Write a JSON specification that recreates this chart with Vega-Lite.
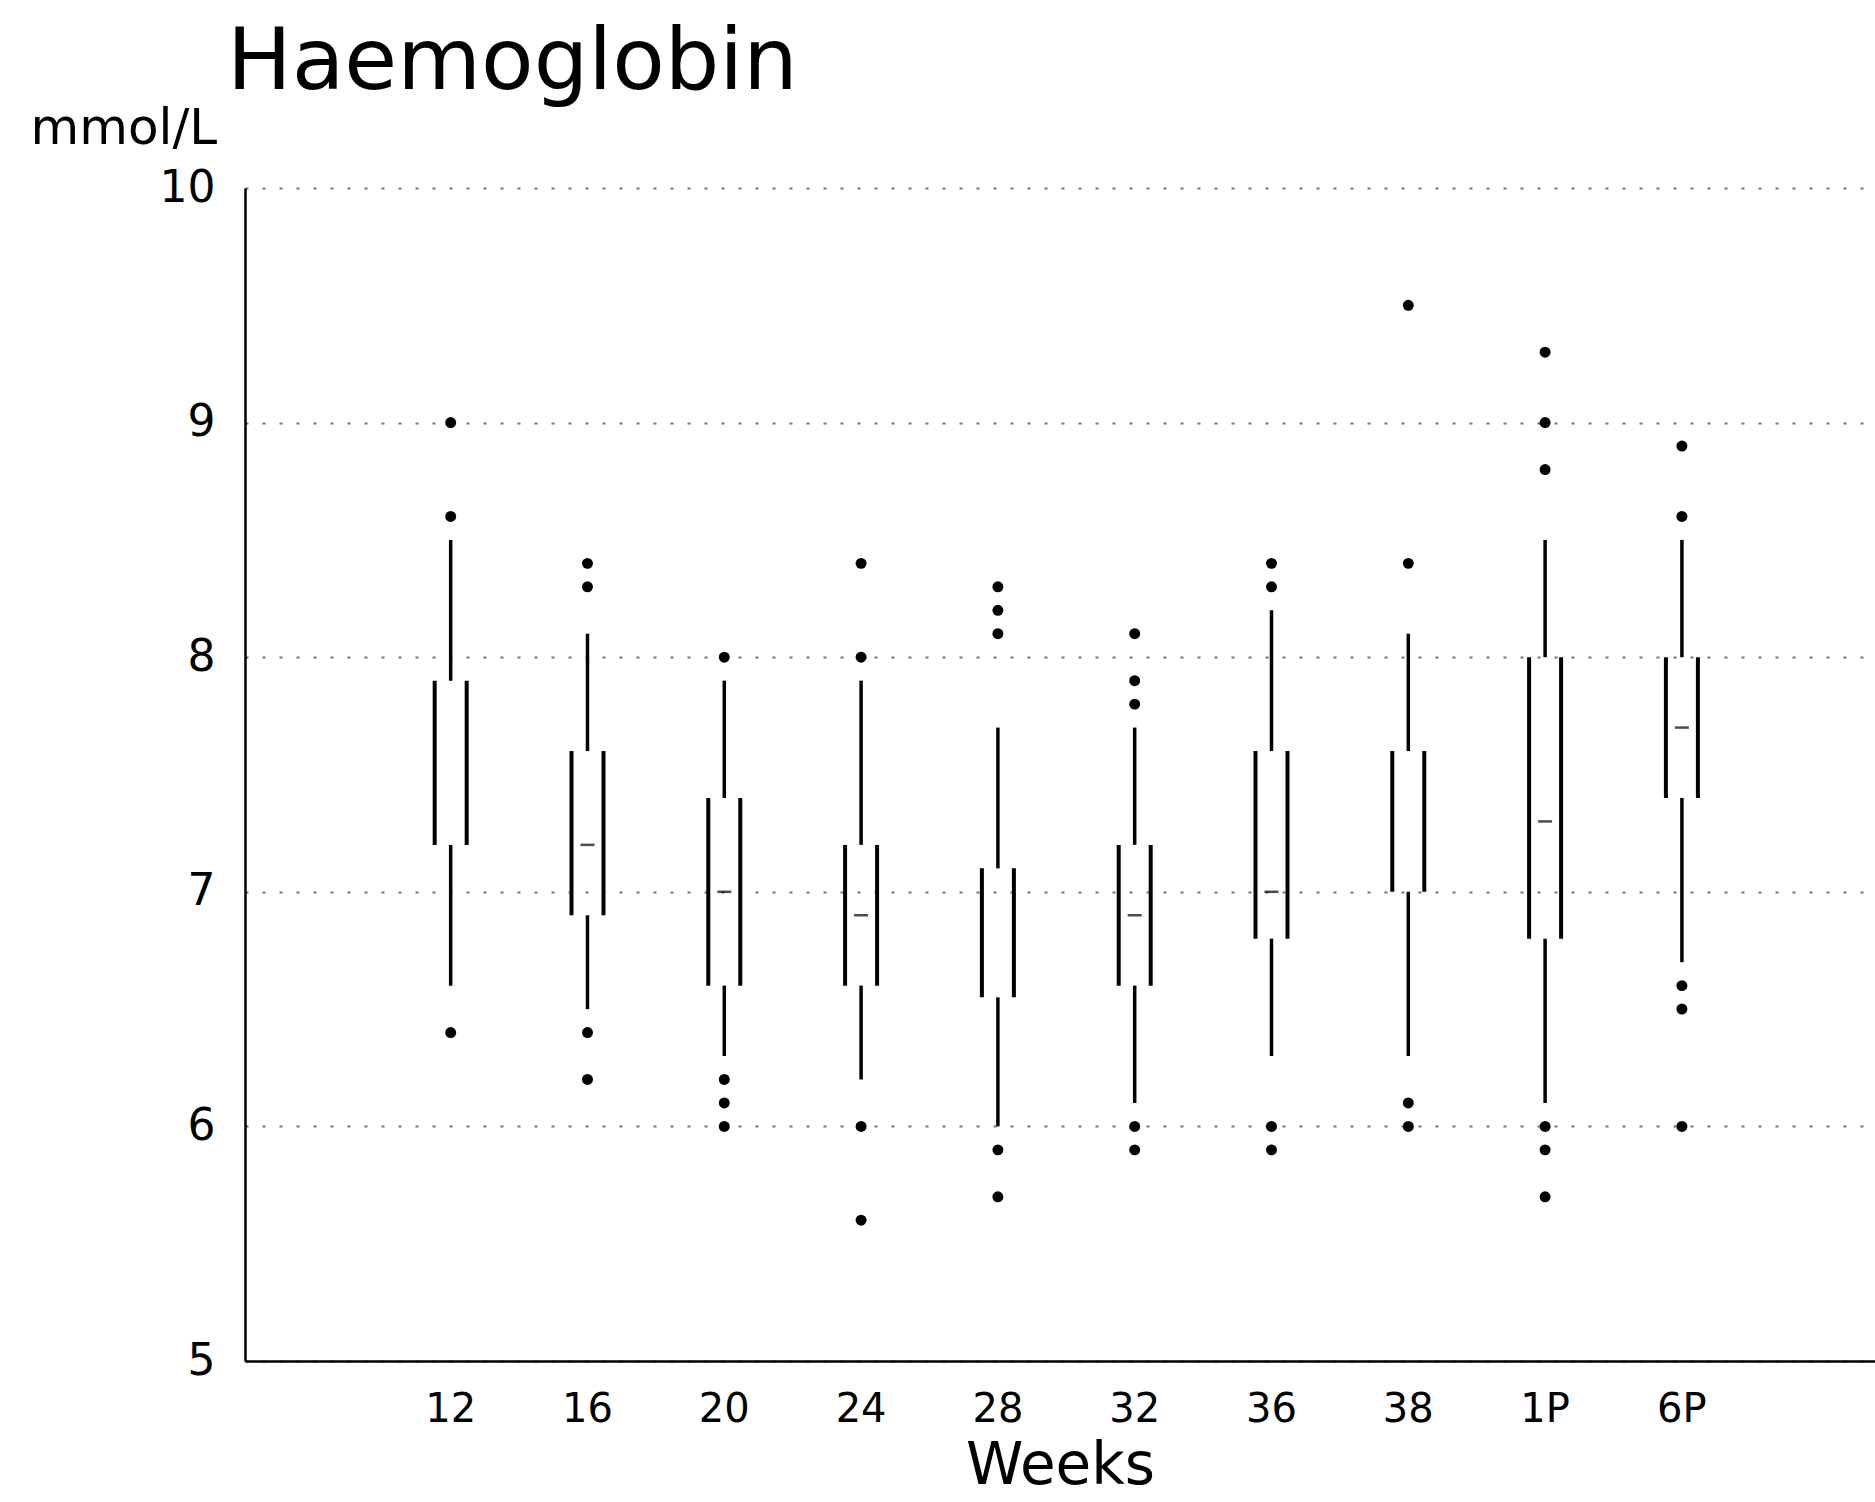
{
  "$schema": "https://vega.github.io/schema/vega-lite/v6.json",
  "width": 1630,
  "height": 1173,
  "autosize": {"type": "none"},
  "padding": {"left": 245, "top": 188, "right": 0, "bottom": 141},
  "background": "white",
  "title": {
    "text": "Haemoglobin",
    "anchor": "start",
    "frame": "group",
    "font": "DejaVu Sans",
    "fontSize": 86,
    "fontWeight": "normal",
    "color": "black",
    "dx": -18,
    "dy": 64,
    "offset": 60
  },
  "datasets": {
    "boxes": [
      {"week": "12", "lo": 6.6, "q1": 7.2, "med": null, "q3": 7.9, "hi": 8.5},
      {"week": "16", "lo": 6.5, "q1": 6.9, "med": 7.2, "q3": 7.6, "hi": 8.1},
      {"week": "20", "lo": 6.3, "q1": 6.6, "med": 7.0, "q3": 7.4, "hi": 7.9},
      {"week": "24", "lo": 6.2, "q1": 6.6, "med": 6.9, "q3": 7.2, "hi": 7.9},
      {"week": "28", "lo": 6.0, "q1": 6.55, "med": null, "q3": 7.1, "hi": 7.7},
      {"week": "32", "lo": 6.1, "q1": 6.6, "med": 6.9, "q3": 7.2, "hi": 7.7},
      {"week": "36", "lo": 6.3, "q1": 6.8, "med": 7.0, "q3": 7.6, "hi": 8.2},
      {"week": "38", "lo": 6.3, "q1": 7.0, "med": null, "q3": 7.6, "hi": 8.1},
      {"week": "1P", "lo": 6.1, "q1": 6.8, "med": 7.3, "q3": 8.0, "hi": 8.5},
      {"week": "6P", "lo": 6.7, "q1": 7.4, "med": 7.7, "q3": 8.0, "hi": 8.5}
    ],
    "outliers": [
      {"week": "12", "value": 9.0}, {"week": "12", "value": 8.6}, {"week": "12", "value": 6.4},
      {"week": "16", "value": 8.4}, {"week": "16", "value": 8.3}, {"week": "16", "value": 6.4}, {"week": "16", "value": 6.2},
      {"week": "20", "value": 8.0}, {"week": "20", "value": 6.2}, {"week": "20", "value": 6.1}, {"week": "20", "value": 6.0},
      {"week": "24", "value": 8.4}, {"week": "24", "value": 8.0}, {"week": "24", "value": 6.0}, {"week": "24", "value": 5.6},
      {"week": "28", "value": 8.3}, {"week": "28", "value": 8.2}, {"week": "28", "value": 8.1}, {"week": "28", "value": 5.9}, {"week": "28", "value": 5.7},
      {"week": "32", "value": 8.1}, {"week": "32", "value": 7.9}, {"week": "32", "value": 7.8}, {"week": "32", "value": 6.0}, {"week": "32", "value": 5.9},
      {"week": "36", "value": 8.4}, {"week": "36", "value": 8.3}, {"week": "36", "value": 6.0}, {"week": "36", "value": 5.9},
      {"week": "38", "value": 9.5}, {"week": "38", "value": 8.4}, {"week": "38", "value": 6.1}, {"week": "38", "value": 6.0},
      {"week": "1P", "value": 9.3}, {"week": "1P", "value": 9.0}, {"week": "1P", "value": 8.8}, {"week": "1P", "value": 6.0}, {"week": "1P", "value": 5.9}, {"week": "1P", "value": 5.7},
      {"week": "6P", "value": 8.9}, {"week": "6P", "value": 8.6}, {"week": "6P", "value": 6.6}, {"week": "6P", "value": 6.5}, {"week": "6P", "value": 6.0}
    ]
  },
  "encoding": {
    "x": {
      "field": "week",
      "type": "ordinal",
      "scale": {
        "type": "band",
        "domain": ["12", "16", "20", "24", "28", "32", "36", "38", "1P", "6P"],
        "paddingInner": 0.085,
        "paddingOuter": 1,
        "align": 0.523
      },
      "axis": {
        "title": "Weeks",
        "titleFont": "DejaVu Sans",
        "titleFontSize": 58,
        "titleFontWeight": "normal",
        "titleColor": "black",
        "titlePadding": 8,
        "labelFont": "DejaVu Sans",
        "labelFontSize": 40,
        "labelColor": "black",
        "labelAngle": 0,
        "labelPadding": 28,
        "ticks": false,
        "domainColor": "black",
        "domainWidth": 2.5,
        "grid": false
      }
    }
  },
  "layer": [
    {
      "data": {"name": "boxes"},
      "mark": {"type": "rule", "color": "black", "strokeWidth": 3.5},
      "encoding": {
        "y": {
          "field": "lo",
          "type": "quantitative",
          "scale": {"domain": [5, 10], "nice": false, "zero": false},
          "axis": {
            "title": "mmol/L",
            "titleAngle": 0,
            "titleAlign": "left",
            "titleBaseline": "alphabetic",
            "titleX": -215,
            "titleY": -45,
            "titleFont": "DejaVu Sans",
            "titleFontSize": 50,
            "titleFontWeight": "normal",
            "titleColor": "black",
            "values": [5, 6, 7, 8, 9, 10],
            "format": "d",
            "labelFont": "DejaVu Sans",
            "labelFontSize": 44,
            "labelColor": "black",
            "labelPadding": 30,
            "ticks": false,
            "domainColor": "black",
            "domainWidth": 2.5,
            "grid": true,
            "gridColor": "black",
            "gridOpacity": 0.55,
            "gridDash": [3, 14],
            "gridWidth": 2
          }
        },
        "y2": {"field": "q1"}
      }
    },
    {
      "data": {"name": "boxes"},
      "mark": {"type": "rule", "color": "black", "strokeWidth": 3.5},
      "encoding": {
        "y": {"field": "q3", "type": "quantitative"},
        "y2": {"field": "hi"}
      }
    },
    {
      "data": {"name": "boxes"},
      "mark": {"type": "rule", "color": "black", "strokeWidth": 4, "xOffset": -16},
      "encoding": {
        "y": {"field": "q1", "type": "quantitative"},
        "y2": {"field": "q3"}
      }
    },
    {
      "data": {"name": "boxes"},
      "mark": {"type": "rule", "color": "black", "strokeWidth": 4, "xOffset": 16},
      "encoding": {
        "y": {"field": "q1", "type": "quantitative"},
        "y2": {"field": "q3"}
      }
    },
    {
      "data": {"name": "boxes"},
      "mark": {"type": "tick", "color": "black", "size": 14, "thickness": 2.5, "orient": "horizontal"},
      "encoding": {
        "y": {"field": "med", "type": "quantitative"}
      }
    },
    {
      "data": {"name": "outliers"},
      "mark": {"type": "point", "filled": true, "color": "black", "size": 120, "opacity": 1},
      "encoding": {
        "y": {"field": "value", "type": "quantitative"}
      }
    }
  ],
  "config": {
    "view": {"stroke": null},
    "font": "DejaVu Sans"
  }
}
